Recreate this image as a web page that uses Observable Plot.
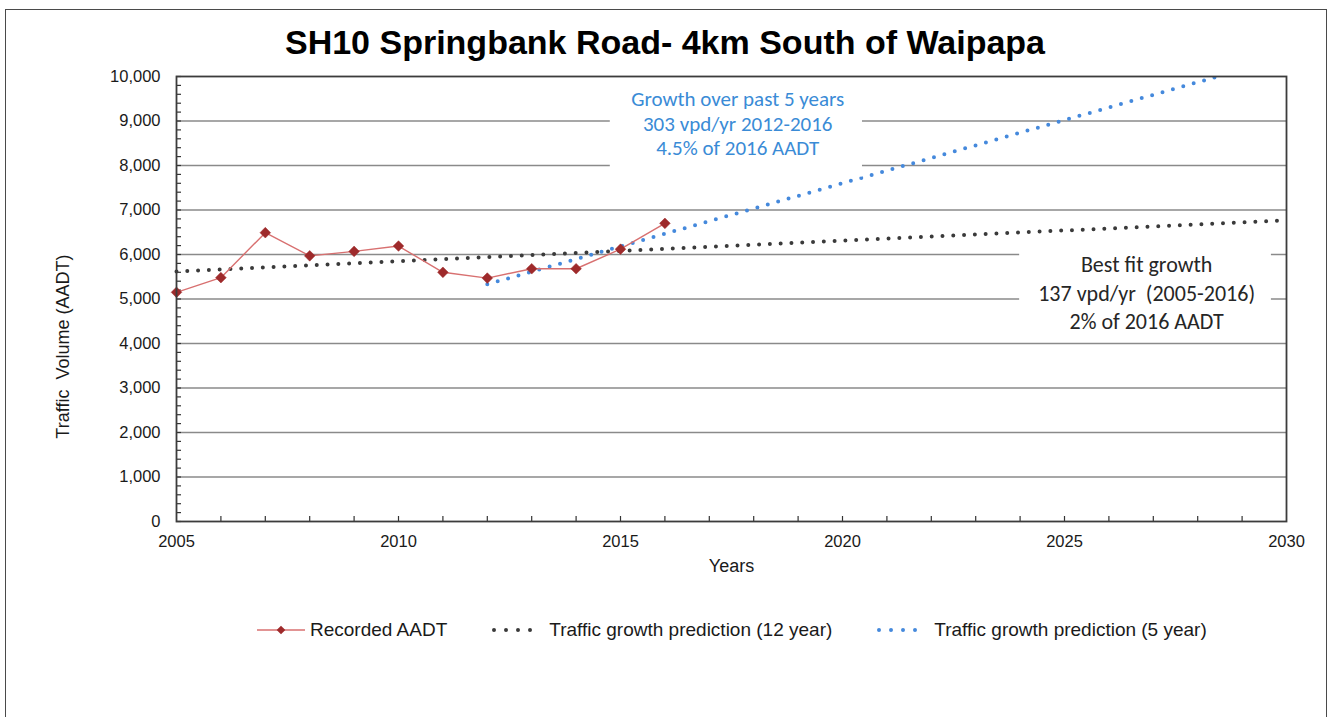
<!DOCTYPE html>
<html>
<head>
<meta charset="utf-8">
<script src="https://cdn.jsdelivr.net/npm/d3@7"></script>
<script src="https://cdn.jsdelivr.net/npm/@observablehq/plot@0.6"></script>
<style>
  body { margin: 0; background: #fff; }
  #wrap { position: relative; width: 1330px; height: 717px; overflow: hidden;
          font-family: "Liberation Sans", Arial, sans-serif; color: #1a1a1a; }
  #border { position: absolute; left: 5px; top: 9px; width: 1322px; height: 800px;
            border: 1.5px solid #4a4a4a; box-sizing: border-box; pointer-events: none; }
  #title { height: 62px; box-sizing: border-box; padding-top: 25px; line-height: 35px;
           font-size: 34px; font-weight: bold; text-align: center; color: #000; }
  #chart svg { display: block; }
  #legend { margin-top: 33px; padding-left: 257px; display: flex; gap: 45px;
            align-items: center; font-size: 19px; height: 24px; }
  .item { display: flex; align-items: center; }
  .item svg { display: block; margin-right: 5px; }
</style>
</head>
<body>
<div id="wrap">
  <div id="title"></div>
  <div id="chart"></div>
  <div id="legend"></div>
  <div id="border"></div>
</div>
<script>
// ---- data ----
const title = "SH10 Springbank Road- 4km South of Waipapa";
const years = [2005, 2006, 2007, 2008, 2009, 2010, 2011, 2012, 2013, 2014, 2015, 2016];
const aadt  = [5150, 5480, 6490, 5970, 6070, 6190, 5600, 5470, 5680, 5680, 6120, 6700];
const trend12Years  = [2005, 2030];
const trend12Values = [5620, 6770];
const trend5Years   = [2012, 2030];
const trend5Values  = [5330, 10440];
const xTickLabels = [2005, 2010, 2015, 2020, 2025, 2030];
const yTickLabels = [0, 1000, 2000, 3000, 4000, 5000, 6000, 7000, 8000, 9000, 10000];
const seriesNames = ["Recorded AADT", "Traffic growth prediction (12 year)", "Traffic growth prediction (5 year)"];
const yAxisTitle = "Traffic  Volume (AADT)";
const xAxisTitle = "Years";
const note5Lines  = ["Growth over past 5 years", "303 vpd/yr 2012-2016", "4.5% of 2016 AADT"];
const note12Lines = ["Best fit growth", "137 vpd/yr  (2005-2016)", "2% of 2016 AADT"];
// annotation placement in data units (year, vehicles)
const note5Anchor  = {x: 2017.64, y: 8960, x1: 2014.77, x2: 2020.45, y1: 7740, y2: 9870};
const note12Anchor = {x: 2026.85, y: 5170, x1: 2023.99, x2: 2029.66, y1: 4180, y2: 6315};
const yTitleAnchor = {x: 2005, y: 3930};

const colRed = "#d87070", colRedMark = "#9e2a2b", colBlack = "#3a3a3a", colBlue = "#4589dc";

const recorded = years.map((y, i) => ({year: y, value: aadt[i]}));
const trend12 = trend12Years.map((y, i) => ({year: y, value: trend12Values[i]}));
const trend5 = trend5Years.map((y, i) => ({year: y, value: trend5Values[i]}));
const minorY = d3.range(0, 10001, 200);
const minorX = d3.range(2006, 2030, 1);
const gridY = yTickLabels.filter(v => v > 0 && v < 10000);

document.getElementById("title").textContent = title;

const W = 1330, H = 523, mL = 176, mR = 44, mT = 14, mB = 64;
const plotW = W - mL - mR, plotH = H - mT - mB;
const noteFont = "Carlito, Calibri, Lato, sans-serif";

const chart = Plot.plot({
  width: W, height: H,
  marginLeft: mL, marginRight: mR, marginTop: mT, marginBottom: mB,
  style: {fontFamily: "'Liberation Sans', Arial, sans-serif", fontSize: "16.5px", color: "#1a1a1a", background: "#fff"},
  x: {domain: [2005, 2030]},
  y: {domain: [0, 10000]},
  marks: [
    Plot.ruleY(gridY, {stroke: "#8a8a8a", strokeWidth: 1.5}),
    Plot.tickY(minorY, {y: d => d, stroke: "#333", strokeWidth: 1.2, insetRight: plotW - 5}),
    Plot.tickX(minorX, {x: d => d, stroke: "#333", strokeWidth: 1.2, insetTop: plotH - 5}),
    Plot.line(trend12, {x: "year", y: "value", stroke: colBlack, strokeWidth: 4,
      strokeDasharray: "0 10.8", strokeLinecap: "round"}),
    Plot.line(trend5, {x: "year", y: "value", stroke: colBlue, strokeWidth: 4,
      strokeDasharray: "0 10.8", strokeLinecap: "round", clip: true}),
    Plot.rect([note5Anchor, note12Anchor], {x1: "x1", x2: "x2", y1: "y1", y2: "y2", fill: "#fff"}),
    Plot.text([note5Anchor], {x: "x", y: "y", text: () => note5Lines.join("\n"), fill: "#3a8bd6",
      fontFamily: noteFont, fontSize: 21, lineHeight: 1.17}),
    Plot.text([note12Anchor], {x: "x", y: "y", text: () => note12Lines.join("\n"), fill: "#262626",
      fontFamily: noteFont, fontSize: 22, lineHeight: 1.3}),
    Plot.line(recorded, {x: "year", y: "value", stroke: colRed, strokeWidth: 1.4}),
    Plot.dot(recorded, {x: "year", y: "value", symbol: "diamond2", r: 4.8, fill: colRedMark, stroke: colRedMark, strokeWidth: 0.5}),
    Plot.frame({stroke: "#3c3c3c", strokeWidth: 1.8}),
    Plot.axisY({ticks: yTickLabels, tickSize: 0, tickPadding: 16, tickFormat: d3.format(","), label: null, fill: "#1a1a1a"}),
    Plot.axisX({ticks: xTickLabels, tickSize: 0, tickPadding: 14, tickFormat: d => String(d), label: null, fill: "#1a1a1a"}),
    Plot.text([yTitleAnchor], {x: "x", y: "y", text: () => yAxisTitle, rotate: -90, dx: -113, fontSize: 18, fill: "#1a1a1a"}),
    Plot.text([xAxisTitle], {frameAnchor: "bottom", dy: 50, fontSize: 18, fill: "#1a1a1a"})
  ]
});
document.getElementById("chart").appendChild(chart);

// legend
const legend = d3.select("#legend");
const swatches = [
  (svg) => {
    svg.append("line").attr("x1", 0).attr("x2", 48).attr("y1", 12).attr("y2", 12).attr("stroke", colRed).attr("stroke-width", 1.4);
    svg.append("path").attr("d", d3.symbol(d3.symbolDiamond2, 48)()).attr("transform", "translate(24,12)").attr("fill", colRedMark);
  },
  (svg) => {
    svg.append("line").attr("x1", 2).attr("x2", 50).attr("y1", 12).attr("y2", 12).attr("stroke", colBlack)
      .attr("stroke-width", 4).attr("stroke-dasharray", "0 12").attr("stroke-linecap", "round");
  },
  (svg) => {
    svg.append("line").attr("x1", 2).attr("x2", 50).attr("y1", 12).attr("y2", 12).attr("stroke", colBlue)
      .attr("stroke-width", 4).attr("stroke-dasharray", "0 12").attr("stroke-linecap", "round");
  }
];
seriesNames.forEach((name, i) => {
  const item = legend.append("div").attr("class", "item");
  const svg = item.append("svg").attr("width", i === 0 ? 48 : 52).attr("height", 24);
  swatches[i](svg);
  item.append("span").text(name);
});
</script>
</body>
</html>
